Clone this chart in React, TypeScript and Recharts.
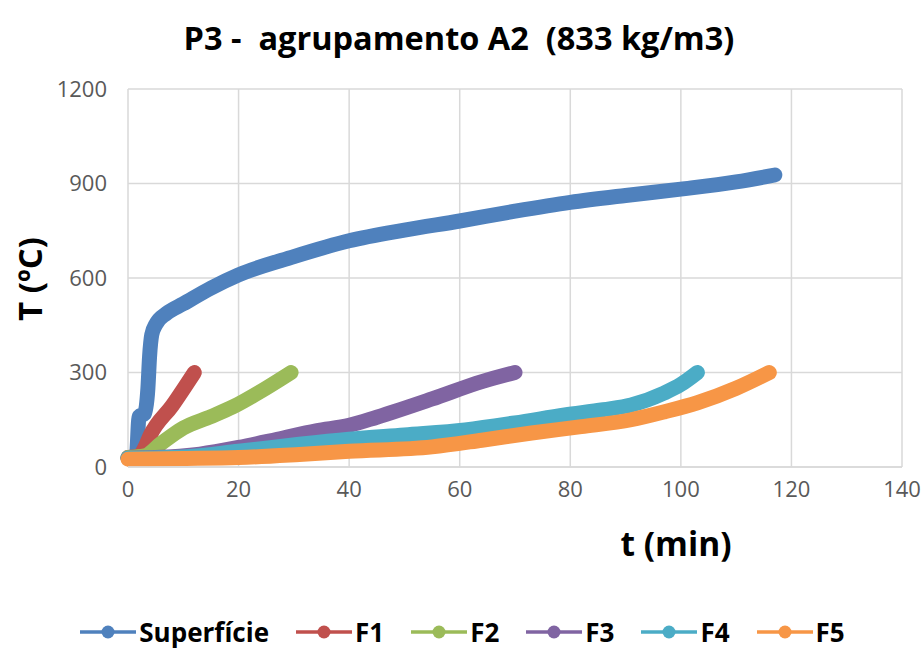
import { CartesianGrid, Line, LineChart, XAxis, YAxis } from 'recharts';

// temperatures (ºC) against time (min)
const superficieT = [0, 1.5, 2, 3, 3.6, 3.9, 4.3, 5, 7, 10, 15, 20, 30, 40, 50, 60, 70, 80, 90, 100, 110, 117];
const superficieV = [30, 32, 160, 170, 250, 350, 420, 452, 488, 518, 568, 610, 668, 718, 752, 781, 812, 840, 862, 882, 905, 927];

const f1T = [0, 2, 3, 4, 8, 12];
const f1V = [30, 35, 60, 100, 195, 300];

const f2T = [0, 3, 6, 10, 15, 19, 24, 29.5];
const f2V = [30, 35, 75, 124, 160, 191, 240, 300];

const f3T = [0, 5, 13, 20, 27, 34, 40, 45, 55, 64, 70];
const f3V = [28, 30, 41, 62, 88, 115, 132, 158, 216, 271, 300];

const f4T = [0, 10, 20, 31, 40, 50, 61, 70, 79, 86, 91, 97, 100, 103];
const f4V = [28, 32, 50, 72, 88, 102, 118, 140, 165, 182, 197, 235, 262, 300];

const f5T = [0, 10, 20, 31, 40, 55, 64, 73, 82, 91, 97, 103, 110, 116];
const f5V = [25, 27, 30, 40, 50, 64, 85, 108, 128, 150, 175, 204, 250, 300];

const xTicks = [0, 20, 40, 60, 80, 100, 120, 140];
const yTicks = [0, 300, 600, 900, 1200];

const FONT = '"Open Sans", "Noto Sans", sans-serif';

const zip = (ts: number[], vs: number[]) => ts.map((t, i) => ({ t, v: vs[i] }));

const series = [
  { name: 'Superfície', color: '#4f81bd', data: zip(superficieT, superficieV) },
  { name: 'F1', color: '#c0504d', data: zip(f1T, f1V) },
  { name: 'F2', color: '#9bbb59', data: zip(f2T, f2V) },
  { name: 'F3', color: '#8064a2', data: zip(f3T, f3V) },
  { name: 'F4', color: '#4bacc6', data: zip(f4T, f4V) },
  { name: 'F5', color: '#f79646', data: zip(f5T, f5V) },
];

function ChartLegend() {
  return (
    <div
      style={{
        position: 'absolute',
        top: 616,
        left: 0,
        width: 924,
        height: 32,
        display: 'flex',
        justifyContent: 'center',
        alignItems: 'center',
        fontFamily: FONT,
      }}
    >
      {series.map((s) => (
        <div key={s.name} style={{ display: 'flex', alignItems: 'center', margin: '0 13px' }}>
          <svg width={58} height={16}>
            <line x1={1} y1={8} x2={57} y2={8} stroke={s.color} strokeWidth={3.5} />
            <circle cx={29} cy={8} r={6.5} fill={s.color} />
          </svg>
          <span style={{ fontSize: 26, fontWeight: 700, color: '#000', marginLeft: 2 }}>{s.name}</span>
        </div>
      ))}
    </div>
  );
}

export default function App() {
  return (
    <div style={{ position: 'absolute', left: 0, top: 0, width: 924, height: 666, background: '#fff', fontFamily: FONT }}>
      <div
        style={{
          position: 'absolute',
          top: 37,
          left: 459,
          transform: 'translate(-50%, -50%)',
          fontSize: 32.5,
          fontWeight: 700,
          color: '#000',
          whiteSpace: 'pre',
        }}
      >
        {'P3 -  agrupamento A2  (833 kg/m3)'}
      </div>
      <div
        style={{
          position: 'absolute',
          left: 29,
          top: 279,
          transform: 'translate(-50%, -50%) rotate(-90deg)',
          fontSize: 33,
          fontWeight: 700,
          color: '#000',
          whiteSpace: 'pre',
        }}
      >
        T (ºC)
      </div>
      <div
        style={{
          position: 'absolute',
          left: 676,
          top: 543,
          transform: 'translate(-50%, -50%)',
          fontSize: 33.5,
          fontWeight: 700,
          color: '#000',
          whiteSpace: 'pre',
        }}
      >
        t (min)
      </div>
      <LineChart width={924} height={666} margin={{ top: 89, right: 22, left: 68, bottom: 169 }}>
        <CartesianGrid stroke="#d9d9d9" strokeWidth={1.5} />
        <XAxis
          type="number"
          dataKey="t"
          domain={[0, 140]}
          ticks={xTicks}
          height={30}
          allowDuplicatedCategory={false}
          tickLine={false}
          tickSize={0}
          tickMargin={14}
          axisLine={{ stroke: '#d9d9d9', strokeWidth: 1.5 }}
          tick={{ fill: '#595959', fontSize: 22, fontFamily: FONT }}
        />
        <YAxis
          type="number"
          domain={[0, 1200]}
          ticks={yTicks}
          width={60}
          tickLine={false}
          tickSize={0}
          tickMargin={21}
          axisLine={false}
          tick={{ fill: '#595959', fontSize: 22, fontFamily: FONT }}
        />
        {series.map((s) => (
          <Line
            key={s.name}
            data={s.data}
            dataKey="v"
            name={s.name}
            type="monotone"
            stroke={s.color}
            strokeWidth={15}
            strokeLinecap="round"
            strokeLinejoin="round"
            dot={false}
            activeDot={false}
            isAnimationActive={false}
          />
        ))}
      </LineChart>
      <ChartLegend />
    </div>
  );
}
